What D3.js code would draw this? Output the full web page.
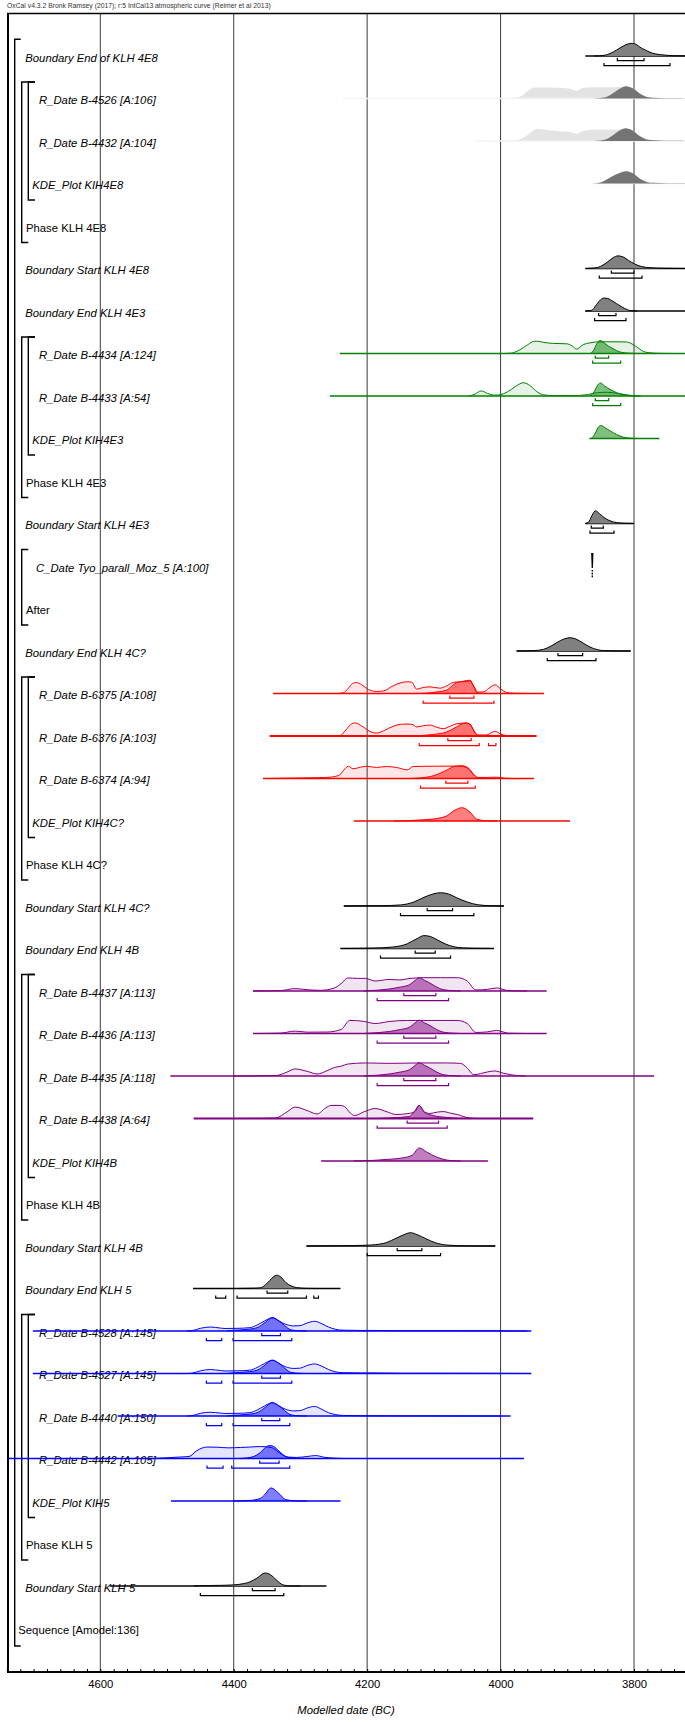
<!DOCTYPE html>
<html>
<head>
<meta charset="utf-8">
<script src="https://cdn.jsdelivr.net/npm/d3@7"></script>
<style>
  body { margin: 0; background: #fff; }
  text { font-family: "Liberation Sans", Arial, sans-serif; }
</style>
</head>
<body>
<svg id="chart" width="685" height="1722"></svg>
<script>
// ---- Model rows (top to bottom) ----
const labels = [
  "Boundary End of KLH 4E8", "R_Date B-4526 [A:106]", "R_Date B-4432 [A:104]", "KDE_Plot KIH4E8",
  "Phase KLH 4E8", "Boundary Start KLH 4E8", "Boundary End KLH 4E3", "R_Date B-4434 [A:124]",
  "R_Date B-4433 [A:54]", "KDE_Plot KIH4E3", "Phase KLH 4E3", "Boundary Start KLH 4E3",
  "C_Date Tyo_parall_Moz_5 [A:100]", "After", "Boundary End KLH 4C?", "R_Date B-6375 [A:108]",
  "R_Date B-6376 [A:103]", "R_Date B-6374 [A:94]", "KDE_Plot KIH4C?", "Phase KLH 4C?",
  "Boundary Start KLH 4C?", "Boundary End KLH 4B", "R_Date B-4437 [A:113]", "R_Date B-4436 [A:113]",
  "R_Date B-4435 [A:118]", "R_Date B-4438 [A:64]", "KDE_Plot KIH4B", "Phase KLH 4B",
  "Boundary Start KLH 4B", "Boundary End KLH 5", "R_Date B-4528 [A:145]", "R_Date B-4527 [A:145]",
  "R_Date B-4440 [A:150]", "R_Date B-4442 [A:105]", "KDE_Plot KIH5", "Phase KLH 5",
  "Boundary Start KLH 5", "Sequence [Amodel:136]"
];

// colour group of each row: k = boundary, g = faded, plus the phase colours
const groups = [
  "k","g","g","g",null,"k","k","green","green","green",null,"k",
  "k",null,"k","red","red","red","red",null,"k","k","purple","purple",
  "purple","purple","purple",null,"k","k","blue","blue","blue","blue","blue",null,
  "k",null
];

// extent of each row's baseline, years BC (older, younger)
const spans = [
  [3873,3700],[4236,3700],[4036,3700],[3862,3700],null,[3873,3700],[3873,3700],[4241,3700],
  [4256,3700],[3867,3762],null,[3873,3800],null,null,[3976,3805],[4341,3935],
  [4346,3946],[4356,3950],[4220,3896],null,[4235,3995],[4240,4010],[4371,3931],[4371,3931],
  [4495,3770],[4460,3951],[4269,4019],null,[4291,4008],[4461,4240],[4701,3954],[4701,3954],
  [4574,3985],[4739,3965],[4494,4240],null,[4586,4261],null
];

// highest posterior density ranges, years BC
const ranges68 = {
  0: [[3825,3785]], 5: [[3834,3800]], 6: [[3853,3827]], 7: [[3858,3838]], 8: [[3858,3838]],
  11: [[3864,3846]], 14: [[3914,3877]], 15: [[4076,4040]], 16: [[4079,4044]], 17: [[4082,4049]],
  20: [[4110,4072]], 21: [[4128,4098]], 22: [[4145,4097]], 23: [[4145,4097]], 24: [[4145,4097]],
  25: [[4140,4093]], 28: [[4155,4118]], 29: [[4350,4319]], 30: [[4358,4330]], 31: [[4358,4330]],
  32: [[4358,4331]], 33: [[4361,4332]], 36: [[4372,4338]]
};
const ranges95 = {
  0: [[3845,3746]], 5: [[3852,3788]], 6: [[3859,3812]], 7: [[3862,3820]], 8: [[3862,3820]],
  11: [[3866,3830]], 14: [[3930,3857]], 15: [[4116,4010]], 16: [[4122,4032],[4018,4007]], 17: [[4120,4038]],
  20: [[4150,4040]], 21: [[4180,4075]], 22: [[4185,4078]], 23: [[4185,4078]], 24: [[4185,4078]],
  25: [[4185,4080]], 28: [[4200,4090]], 29: [[4427,4412],[4395,4291],[4280,4273]],
  30: [[4441,4418],[4401,4313]], 31: [[4441,4418],[4401,4313]], 32: [[4441,4418],[4401,4316]],
  33: [[4440,4416],[4403,4316]], 36: [[4450,4325]]
};

// C_Date point estimate, years BC
const cDateTyo = 3862.5;

// ---- Probability distributions: [year BC, relative density] ----
const endKLH4E8 = [[3860,0],[3846,0.04],[3836,0.18],[3826,0.45],[3816,0.75],[3808,0.92],[3802,0.95],[3796,0.85],[3791,0.66],[3783,0.45],[3776,0.28],[3768,0.16],[3760,0.1],[3750,0.05],[3740,0.02],[3720,0.01],[3700,0]];
const b4526Prior = [[4040,0],[3995,0.01],[3980,0.04],[3968,0.2],[3958,0.62],[3948,0.82],[3935,0.83],[3915,0.8],[3896,0.74],[3886,0.58],[3876,0.8],[3860,0.84],[3840,0.85],[3822,0.87],[3812,0.88],[3802,0.78],[3794,0.5],[3786,0.2],[3776,0.06],[3760,0.02],[3730,0.01],[3700,0]];
const b4526Post = [[3860,0],[3851,0.03],[3840,0.15],[3831,0.42],[3820,0.78],[3812,0.93],[3801,0.75],[3791,0.35],[3781,0.12],[3770,0.05],[3755,0.02],[3735,0.01],[3700,0]];
const b4432Prior = [[4036,0],[3995,0.01],[3981,0.03],[3968,0.18],[3953,0.7],[3946,0.9],[3931,0.85],[3916,0.75],[3896,0.68],[3886,0.55],[3876,0.75],[3861,0.85],[3840,0.85],[3822,0.87],[3812,0.88],[3802,0.78],[3794,0.5],[3786,0.2],[3776,0.06],[3760,0.02],[3730,0.01],[3700,0]];
const b4432Post = [[3860,0],[3851,0.03],[3840,0.16],[3831,0.45],[3821,0.8],[3813,0.95],[3801,0.76],[3791,0.35],[3781,0.12],[3770,0.05],[3755,0.02],[3735,0.01],[3700,0]];
const kde4E8 = [[3862,0],[3852,0.05],[3841,0.3],[3828,0.65],[3811,0.92],[3801,0.75],[3791,0.35],[3781,0.12],[3770,0.05],[3750,0.02],[3720,0.01],[3700,0]];
const startKLH4E8 = [[3872,0],[3860,0.03],[3850,0.16],[3840,0.48],[3831,0.82],[3824,0.95],[3816,0.86],[3808,0.6],[3799,0.34],[3789,0.15],[3776,0.06],[3756,0.02],[3725,0]];
const endKLH4E3 = [[3873,0],[3866,0.02],[3862,0.1],[3856,0.5],[3850,0.85],[3845,0.97],[3840,0.95],[3834,0.8],[3826,0.55],[3818,0.3],[3810,0.1],[3804,0.02],[3795,0]];
const b4434Prior = [[3995,0],[3985,0.02],[3975,0.18],[3961,0.6],[3952,0.88],[3946,0.93],[3935,0.83],[3921,0.76],[3901,0.73],[3893,0.58],[3886,0.33],[3876,0.67],[3866,0.8],[3851,0.88],[3830,0.88],[3812,0.87],[3803,0.72],[3796,0.5],[3786,0.15],[3776,0.05],[3760,0.01],[3740,0]];
const b4434Post = [[3866,0],[3861,0.2],[3856,0.7],[3851,0.98],[3845,0.8],[3838,0.55],[3830,0.32],[3822,0.13],[3812,0.04],[3800,0.01],[3790,0]];
const b4433Prior = [[4048,0],[4040,0.1],[4029,0.38],[4020,0.2],[4008,0.06],[4000,0.1],[3990,0.3],[3978,0.7],[3966,1.0],[3955,0.75],[3945,0.3],[3935,0.08],[3920,0.03],[3890,0.03],[3870,0.1],[3855,0.25],[3840,0.28],[3825,0.2],[3810,0.08],[3800,0.02],[3790,0]];
const b4433Post = [[3866,0],[3860,0.3],[3854,0.85],[3850,0.98],[3844,0.75],[3836,0.5],[3826,0.25],[3815,0.08],[3805,0.02],[3795,0]];
const kde4E3 = [[3864,0],[3859,0.3],[3854,0.8],[3850,0.98],[3843,0.8],[3835,0.55],[3826,0.3],[3816,0.1],[3806,0.03],[3795,0]];
const startKLH4E3 = [[3873,0],[3868,0.1],[3863,0.6],[3858,0.95],[3852,0.75],[3845,0.45],[3836,0.2],[3825,0.06],[3810,0.01],[3800,0]];
const endKLH4C = [[3976,0],[3950,0.03],[3936,0.12],[3925,0.35],[3915,0.65],[3905,0.9],[3896,1.0],[3887,0.9],[3877,0.62],[3866,0.3],[3855,0.1],[3845,0.03],[3830,0.01],[3805,0]];
const b6375Prior = [[4245,0],[4236,0.05],[4228,0.4],[4222,0.75],[4216,0.83],[4208,0.65],[4198,0.3],[4186,0.15],[4175,0.2],[4161,0.58],[4150,0.8],[4141,0.88],[4133,0.85],[4126,0.33],[4116,0.45],[4106,0.5],[4091,0.4],[4080,0.6],[4071,0.83],[4060,0.88],[4051,0.9],[4046,0.95],[4040,0.5],[4036,0.1],[4026,0.12],[4016,0.45],[4008,0.65],[4000,0.35],[3991,0.08],[3980,0.02],[3960,0]];
const b6375Post = [[4130,0],[4111,0.03],[4095,0.12],[4081,0.25],[4072,0.6],[4066,0.8],[4056,0.92],[4046,1.0],[4040,0.55],[4034,0.05],[4025,0]];
const b6376Prior = [[4250,0],[4240,0.05],[4232,0.45],[4225,0.85],[4218,0.98],[4208,0.75],[4196,0.35],[4186,0.22],[4175,0.4],[4161,0.73],[4150,0.88],[4140,0.9],[4131,0.85],[4126,0.68],[4115,0.78],[4106,0.82],[4095,0.65],[4086,0.55],[4075,0.75],[4066,0.92],[4052,0.97],[4046,0.9],[4040,0.4],[4034,0.08],[4021,0.08],[4012,0.3],[4008,0.35],[4000,0.15],[3991,0.03],[3975,0]];
const b6376Post = [[4130,0],[4121,0.03],[4100,0.12],[4081,0.3],[4066,0.68],[4056,0.95],[4051,0.98],[4044,0.75],[4038,0.2],[4032,0.02],[4020,0]];
const b6374Prior = [[4356,0],[4326,0.02],[4290,0.05],[4261,0.08],[4243,0.22],[4228,0.92],[4221,0.73],[4210,0.85],[4201,0.92],[4186,0.83],[4171,0.9],[4156,0.83],[4140,0.65],[4131,0.9],[4111,0.92],[4081,0.93],[4061,0.93],[4051,0.83],[4040,0.3],[4034,0.08],[4020,0.08],[4006,0.1],[3995,0.03],[3980,0]];
const b6374Post = [[4135,0],[4121,0.04],[4105,0.15],[4091,0.38],[4080,0.65],[4071,0.88],[4058,0.96],[4046,0.68],[4040,0.25],[4035,0.05],[4025,0]];
const kde4C = [[4160,0],[4141,0.02],[4120,0.08],[4101,0.15],[4081,0.38],[4068,0.83],[4058,1.0],[4046,0.68],[4036,0.15],[4021,0.02],[4005,0]];
const startKLH4C = [[4235,0],[4180,0.02],[4150,0.08],[4130,0.3],[4115,0.65],[4100,0.92],[4090,1.0],[4078,0.9],[4065,0.6],[4050,0.3],[4035,0.1],[4015,0.02],[3995,0]];
const endKLH4B = [[4240,0],[4190,0.03],[4160,0.12],[4140,0.35],[4125,0.75],[4115,0.97],[4105,0.9],[4095,0.65],[4083,0.35],[4070,0.13],[4055,0.04],[4030,0.01],[4010,0]];
const b4437Prior = [[4371,0],[4330,0.03],[4308,0.18],[4290,0.1],[4270,0.05],[4249,0.23],[4238,0.6],[4229,0.98],[4215,0.95],[4203,0.95],[4188,0.75],[4167,0.87],[4152,0.83],[4135,0.95],[4116,1.0],[4090,1.0],[4065,1.0],[4050,0.75],[4037,0.08],[4020,0.12],[4006,0.23],[3995,0.1],[3988,0.02],[3960,0]];
const b4437Post = [[4205,0],[4198,0.02],[4167,0.15],[4150,0.3],[4137,0.46],[4128,0.8],[4122,1.0],[4114,0.8],[4106,0.6],[4096,0.3],[4086,0.1],[4070,0.02],[4060,0]];
const b4436Prior = [[4371,0],[4330,0.03],[4308,0.18],[4290,0.1],[4260,0.11],[4239,0.3],[4226,0.98],[4206,0.92],[4188,0.75],[4167,0.9],[4140,0.98],[4116,0.98],[4065,0.98],[4050,0.75],[4037,0.08],[4020,0.12],[4006,0.23],[3995,0.1],[3988,0.02],[3960,0]];
const b4436Post = [[4205,0],[4198,0.02],[4167,0.15],[4150,0.3],[4137,0.46],[4128,0.8],[4122,1.0],[4114,0.8],[4106,0.6],[4096,0.3],[4086,0.1],[4070,0.02],[4060,0]];
const b4435Prior = [[4400,0],[4336,0.04],[4320,0.3],[4308,0.53],[4290,0.35],[4275,0.15],[4260,0.4],[4249,0.64],[4238,0.75],[4229,0.9],[4203,0.98],[4167,0.95],[4120,0.98],[4080,0.98],[4060,0.95],[4050,0.6],[4040,0.1],[4020,0.3],[4009,0.38],[3995,0.2],[3983,0.08],[3963,0]];
const b4435Post = [[4205,0],[4198,0.02],[4167,0.15],[4150,0.3],[4137,0.46],[4128,0.8],[4122,1.0],[4114,0.8],[4106,0.6],[4096,0.3],[4086,0.1],[4070,0.02],[4060,0]];
const b4438Prior = [[4400,0],[4350,0.02],[4337,0.04],[4320,0.5],[4308,0.86],[4290,0.6],[4275,0.34],[4262,0.8],[4254,0.98],[4240,0.98],[4234,0.9],[4225,0.4],[4219,0.22],[4205,0.5],[4188,0.75],[4170,0.5],[4157,0.3],[4137,0.38],[4128,0.55],[4122,0.98],[4114,0.5],[4106,0.38],[4095,0.48],[4086,0.52],[4075,0.4],[4065,0.3],[4047,0.04],[4030,0]];
const b4438Post = [[4190,0],[4167,0.04],[4137,0.15],[4129,0.53],[4122,0.98],[4114,0.45],[4101,0.22],[4081,0.08],[4060,0.01],[4050,0]];
const kde4B = [[4220,0],[4198,0.03],[4170,0.12],[4147,0.23],[4132,0.45],[4122,0.98],[4111,0.68],[4096,0.3],[4076,0.04],[4060,0]];
const startKLH4B = [[4291,0],[4240,0.02],[4200,0.06],[4175,0.2],[4160,0.5],[4145,0.85],[4135,1.0],[4125,0.85],[4112,0.55],[4098,0.25],[4080,0.07],[4050,0.01],[4008,0]];
const endKLH5 = [[4400,0],[4370,0.02],[4360,0.05],[4352,0.3],[4346,0.6],[4340,0.9],[4336,1.0],[4329,0.85],[4322,0.45],[4314,0.2],[4306,0.07],[4290,0.01],[4270,0]];
const b4528Prior = [[4470,0],[4461,0.04],[4450,0.2],[4435,0.3],[4420,0.22],[4413,0.19],[4395,0.2],[4376,0.25],[4365,0.45],[4354,0.75],[4346,0.95],[4341,1.0],[4332,0.75],[4322,0.5],[4310,0.38],[4301,0.4],[4290,0.6],[4279,0.73],[4268,0.55],[4258,0.3],[4247,0.12],[4236,0.06],[4210,0.04],[4188,0.04],[4150,0.02],[4100,0.02],[4000,0.01],[3960,0]];
const b4528Post = [[4410,0],[4403,0.04],[4380,0.12],[4365,0.25],[4352,0.68],[4343,1.0],[4335,0.85],[4328,0.6],[4320,0.25],[4314,0.08],[4300,0.01],[4290,0]];
const b4527Prior = [[4470,0],[4461,0.04],[4450,0.2],[4435,0.3],[4420,0.22],[4413,0.19],[4395,0.2],[4376,0.25],[4365,0.45],[4354,0.75],[4346,0.95],[4341,1.0],[4332,0.75],[4322,0.5],[4310,0.38],[4301,0.4],[4290,0.6],[4279,0.72],[4268,0.55],[4258,0.3],[4247,0.12],[4236,0.06],[4210,0.04],[4188,0.04],[4150,0.02],[4100,0.02],[4000,0.01],[3960,0]];
const b4527Post = [[4410,0],[4403,0.04],[4380,0.12],[4365,0.25],[4352,0.68],[4343,1.0],[4335,0.85],[4328,0.6],[4320,0.25],[4314,0.08],[4300,0.01],[4290,0]];
const b4440Prior = [[4470,0],[4461,0.04],[4450,0.2],[4435,0.28],[4420,0.22],[4413,0.19],[4395,0.2],[4376,0.25],[4365,0.45],[4354,0.75],[4346,0.95],[4341,1.0],[4332,0.75],[4322,0.5],[4310,0.38],[4301,0.4],[4290,0.6],[4279,0.72],[4268,0.5],[4258,0.25],[4247,0.1],[4236,0.04],[4210,0.02],[4150,0.01],[4000,0]];
const b4440Post = [[4410,0],[4403,0.04],[4380,0.12],[4365,0.25],[4352,0.68],[4343,1.0],[4335,0.85],[4328,0.6],[4320,0.25],[4314,0.08],[4300,0.01],[4290,0]];
const b4442Prior = [[4560,0],[4520,0.01],[4505,0.04],[4485,0.1],[4467,0.15],[4455,0.6],[4440,0.86],[4425,0.85],[4408,0.8],[4390,0.83],[4376,0.86],[4360,0.9],[4344,0.83],[4336,0.6],[4328,0.3],[4318,0.1],[4306,0.08],[4290,0.15],[4277,0.22],[4265,0.1],[4250,0.03],[4230,0]];
const b4442Post = [[4395,0],[4381,0.04],[4370,0.15],[4360,0.45],[4352,0.85],[4346,0.98],[4340,0.9],[4333,0.6],[4322,0.15],[4310,0.03],[4300,0]];
const kde5 = [[4400,0],[4376,0.04],[4360,0.2],[4354,0.45],[4344,0.98],[4333,0.6],[4322,0.1],[4306,0.01],[4290,0]];
const startKLH5 = [[4460,0],[4451,0.02],[4420,0.05],[4401,0.08],[4385,0.18],[4376,0.3],[4365,0.6],[4353,0.98],[4345,0.85],[4336,0.45],[4326,0.08],[4315,0.01],[4300,0]];

// likelihoods (unmodelled) and posteriors by row
const priors = {1: b4526Prior, 2: b4432Prior, 7: b4434Prior, 8: b4433Prior, 15: b6375Prior, 16: b6376Prior,
  17: b6374Prior, 22: b4437Prior, 23: b4436Prior, 24: b4435Prior, 25: b4438Prior, 30: b4528Prior,
  31: b4527Prior, 32: b4440Prior, 33: b4442Prior};
const posteriors = {0: endKLH4E8, 1: b4526Post, 2: b4432Post, 3: kde4E8, 5: startKLH4E8, 6: endKLH4E3,
  7: b4434Post, 8: b4433Post, 9: kde4E3, 11: startKLH4E3, 14: endKLH4C, 15: b6375Post, 16: b6376Post,
  17: b6374Post, 18: kde4C, 20: startKLH4C, 21: endKLH4B, 22: b4437Post, 23: b4436Post, 24: b4435Post,
  25: b4438Post, 26: kde4B, 28: startKLH4B, 29: endKLH5, 30: b4528Post, 31: b4527Post, 32: b4440Post,
  33: b4442Post, 34: kde5, 36: startKLH5};

// nested structure: phases [first row, KDE row, phase row], After group, sequence
const phases = [[1,3,4],[7,9,10],[15,18,19],[22,26,27],[30,34,35]];
const afterGroup = [12,13];
const sequenceRows = [0,37];

const axisTicks = [4600, 4400, 4200, 4000, 3800];

// ---- Drawing ----
const palette = {
  k:      {line: "#000", prior: "none", post: "#808080", postStroke: "#000"},
  g:      {line: "#f2f2f2", prior: "#e3e3e3", priorStroke: "none", post: "#747474", postStroke: "none"},
  green:  {line: "#008000", prior: "rgba(0,128,0,0.1)", post: "rgba(0,128,0,0.5)"},
  red:    {line: "#ff0000", prior: "rgba(255,0,0,0.1)", post: "rgba(255,0,0,0.5)"},
  purple: {line: "#800080", prior: "rgba(128,0,128,0.1)", post: "rgba(128,0,128,0.5)"},
  blue:   {line: "#0000ff", prior: "rgba(0,0,255,0.1)", post: "rgba(0,0,255,0.5)"}
};
// rows whose baseline is drawn heavier
const heavyBaseline = new Set([16, 25]);

const svg = d3.select("#chart");
const W = 685;
const plotLeft = 8, plotTop = 13.5, axisY = 1672;
const rowY = i => 56 + 42.5 * i;
const x = d3.scaleLinear().domain([4600, 3800]).range([100.3, 634]);
const h = d3.scaleLinear().domain([0, 1]).range([0, 13.3]);

svg.append("text")
  .attr("x", 7).attr("y", 7.8)
  .attr("font-size", 6.8).attr("fill", "#333")
  .text("OxCal v4.3.2 Bronk Ramsey (2017); r:5 IntCal13 atmospheric curve (Reimer et al 2013)");

svg.append("clipPath").attr("id", "plotClip")
  .append("rect").attr("x", plotLeft).attr("y", plotTop).attr("width", W - plotLeft).attr("height", axisY - plotTop);

// grid lines
svg.append("g").selectAll("line").data(axisTicks).join("line")
  .attr("x1", d => x(d)).attr("x2", d => x(d))
  .attr("y1", plotTop).attr("y2", axisY)
  .attr("stroke", "#3a3a3a").attr("stroke-width", 1);

// labels
const normalKinds = ["Phase", "After", "Sequence"];
function labelX(t) {
  if (t.startsWith("Sequence")) return 18.3;
  if (t.startsWith("R_Date")) return 39;
  if (t.startsWith("KDE_Plot")) return 32.3;
  if (t.startsWith("C_Date")) return 36;
  if (t.startsWith("Phase") || t.startsWith("After")) return 26;
  return 25.3;
}
svg.append("g").selectAll("text").data(labels).join("text")
  .attr("x", d => labelX(d))
  .attr("y", (d, i) => rowY(i) + 5.6)
  .attr("font-size", 11.3)
  .attr("font-style", d => normalKinds.some(k => d.startsWith(k)) ? "normal" : "italic")
  .attr("fill", "#000")
  .text(d => d);

// brackets
const br = svg.append("g").attr("fill", "none").attr("stroke", "#000").attr("stroke-width", 1.4);
function bracket(xv, y0, y1, topLen, botLen) {
  br.append("path").attr("d", `M${xv + topLen},${y0}H${xv}V${y1}H${xv + botLen}`);
}
bracket(14.7, rowY(sequenceRows[0]) - 16.7, rowY(sequenceRows[1]) + 17.5, 6, 6);
phases.forEach(([first, kde, ph]) => {
  bracket(21.7, rowY(first) - 16.5, rowY(ph) + 16.5, 13.3, 6.6);
  bracket(28.3, rowY(first) - 16.5, rowY(kde) + 16.5, 6.7, 6.7);
});
bracket(21.7, rowY(afterGroup[0]) - 16.5, rowY(afterGroup[1]) + 16.5, 6.6, 6.6);

// distributions
const plot = svg.append("g").attr("clip-path", "url(#plotClip)");
const sortPts = pts => pts.slice().sort((a, b) => x(a[0]) - x(b[0]));
function drawCurve(g, pts, base, fill, stroke, sw) {
  const sorted = sortPts(pts);
  const area = d3.area().x(d => x(d[0])).y0(base).y1(d => base - h(d[1])).curve(d3.curveMonotoneX);
  g.append("path").attr("d", area(sorted)).attr("fill", fill).attr("stroke", "none");
  if (stroke && stroke !== "none") {
    const line = d3.line().x(d => x(d[0])).y(d => base - h(d[1])).curve(d3.curveMonotoneX);
    g.append("path").attr("d", line(sorted)).attr("fill", "none").attr("stroke", stroke).attr("stroke-width", sw);
  }
}
function drawRange(g, r, base, off, color) {
  const x1 = x(r[0]), x2 = x(r[1]), yy = base + off;
  g.append("path").attr("d", `M${x1},${yy - 2.6}V${yy}H${x2}V${yy - 2.6}`)
    .attr("fill", "none").attr("stroke", color).attr("stroke-width", 1.2);
}

labels.forEach((lab, i) => {
  const grp = groups[i];
  if (!grp) return;
  const pal = palette[grp];
  const base = rowY(i);
  const g = plot.append("g");
  if (i === 12) {
    // C_Date: single calendar date
    const cx = x(cDateTyo);
    g.append("path").attr("d", `M${cx - 1.2},${base - 13}L${cx + 1.2},${base - 13}L${cx + 0.6},${base + 2}L${cx - 0.6},${base + 2}Z`).attr("fill", "#000");
    g.append("line").attr("x1", cx).attr("x2", cx).attr("y1", base + 4).attr("y2", base + 12)
      .attr("stroke", "#000").attr("stroke-width", 1.4).attr("stroke-dasharray", "1.6,1.2");
    return;
  }
  if (priors[i]) drawCurve(g, priors[i], base, pal.prior, pal.priorStroke === "none" ? "none" : pal.line, 1);
  if (spans[i]) {
    g.append("line").attr("x1", x(spans[i][0])).attr("x2", x(spans[i][1]))
      .attr("y1", base).attr("y2", base)
      .attr("stroke", pal.line)
      .attr("stroke-width", grp === "k" ? 1.5 : (heavyBaseline.has(i) ? 2.2 : 1.4));
  }
  if (posteriors[i]) {
    const stroke = grp === "k" ? "#000" : (pal.postStroke === "none" ? "none" : pal.line);
    drawCurve(g, posteriors[i], base, pal.post, stroke, 1);
  }
  (ranges68[i] || []).forEach(r => drawRange(g, r, base, 4.7, pal.line));
  (ranges95[i] || []).forEach(r => drawRange(g, r, base, 9.7, pal.line));
});

// frame
svg.append("line").attr("x1", plotLeft - 1).attr("x2", W).attr("y1", plotTop).attr("y2", plotTop)
  .attr("stroke", "#000").attr("stroke-width", 1.6);
svg.append("line").attr("x1", plotLeft).attr("x2", plotLeft).attr("y1", plotTop).attr("y2", axisY)
  .attr("stroke", "#000").attr("stroke-width", 2);

// axis: minor ticks every 20 years pointing inward, labels every 200
const minorTicks = d3.range(3720, 4741, 20);
const axisMinor = d3.axisTop(x).tickValues(minorTicks).tickSize(3).tickFormat("");
const gMinor = svg.append("g").attr("transform", `translate(0,${axisY})`).call(axisMinor);
gMinor.select(".domain").remove();
gMinor.selectAll(".tick line").attr("stroke", "#000").attr("stroke-width", 1);
const axisMajor = d3.axisBottom(x).tickValues(axisTicks).tickSize(0).tickPadding(8).tickFormat(d3.format("d"));
const gMajor = svg.append("g").attr("transform", `translate(0,${axisY})`).call(axisMajor);
gMajor.select(".domain").remove();
gMajor.selectAll("text").attr("font-size", 11.3).attr("fill", "#000")
  .attr("font-family", "Liberation Sans, Arial, sans-serif");
svg.append("line").attr("x1", plotLeft - 1).attr("x2", W).attr("y1", axisY).attr("y2", axisY)
  .attr("stroke", "#000").attr("stroke-width", 2);

svg.append("text")
  .attr("x", 346).attr("y", 1714)
  .attr("text-anchor", "middle")
  .attr("font-size", 11.3).attr("font-style", "italic").attr("fill", "#000")
  .text("Modelled date (BC)");
</script>
</body>
</html>
